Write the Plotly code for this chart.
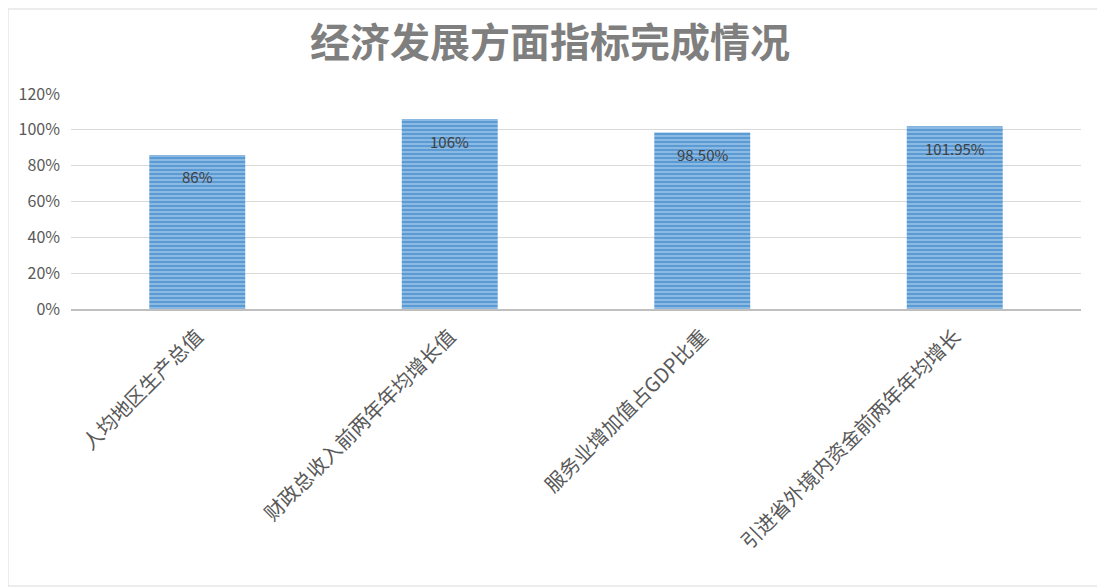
import plotly.graph_objects as go

# data
categories = ["人均地区生产总值", "财政总收入前两年年均增长值", "服务业增加值占GDP比重", "引进省外境内资金前两年年均增长"]
values = [0.86, 1.06, 0.985, 1.0195]
labels = ["86%", "106%", "98.50%", "101.95%"]
tick_vals = [0, 0.2, 0.4, 0.6, 0.8, 1.0, 1.2]
tick_text = ["0%", "20%", "40%", "60%", "80%", "100%", "120%"]

font_cjk = "Noto Sans CJK SC"

fig = go.Figure(
    go.Bar(
        x=categories,
        y=values,
        width=0.38,
        marker=dict(
            color="#5B9BD5",
            line=dict(width=0),
            # light stripes over the blue fill
            pattern=dict(shape="-", size=4, solidity=0.4, fgcolor="#D6E6F6", fillmode="overlay"),
        ),
        hoverinfo="x+y",
    )
)

# data labels a little below the bar tops
for cat, val, lab in zip(categories, values, labels):
    fig.add_annotation(
        x=cat, y=val, text=lab, showarrow=False, yshift=-22,
        font=dict(family=font_cjk, size=15, color="#404040"),
    )

# page body adds 8px, so the figure is sized/offset to land where the reference is
fig.update_layout(
    width=1097,
    height=579,
    margin=dict(l=63, r=24, t=86, b=278),
    paper_bgcolor="white",
    plot_bgcolor="white",
    showlegend=False,
    title=dict(
        text="<b>经济发展方面指标完成情况</b>",
        x=0.494,
        xanchor="center",
        y=0.94,
        yanchor="middle",
        font=dict(family=font_cjk, size=40, color="#7F7F7F"),
    ),
    shapes=[
        dict(type="rect", xref="paper", yref="paper",
             x0=-63 / 1010, x1=1 + 23 / 1010, y0=-277 / 215, y1=1 + 85 / 215,
             line=dict(color="#D9D9D9", width=1), fillcolor="rgba(0,0,0,0)", layer="below"),
    ],
)

fig.update_yaxes(
    range=[0, 1.2],
    tickvals=tick_vals,
    ticktext=tick_text,
    showgrid=True,
    gridcolor="#D9D9D9",
    gridwidth=1,
    zeroline=False,
    showline=False,
    ticks="",
    tickfont=dict(family=font_cjk, size=16, color="#595959"),
    ticklabelstandoff=10,
)
fig.update_xaxes(
    showline=True,
    linecolor="#BFBFBF",
    linewidth=2,
    tickangle=-45,
    ticks="",
    tickfont=dict(family=font_cjk, size=20, color="#595959"),
    ticklabelstandoff=6,
)

fig.write_html("out.html")
